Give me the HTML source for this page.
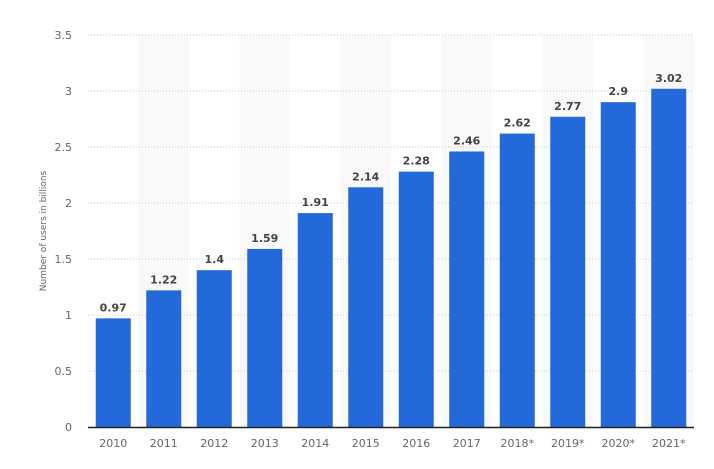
<!DOCTYPE html>
<html><head><meta charset="utf-8"><style>
body{margin:0;background:#fff;}
svg{display:block;font-family:"DejaVu Sans","Liberation Sans",sans-serif;}
</style></head><body>
<svg id="chart" width="714" height="469"></svg>
<script>
const categories=["2010","2011","2012","2013","2014","2015","2016","2017","2018*","2019*","2020*","2021*"];
const values=[0.97,1.22,1.4,1.59,1.91,2.14,2.28,2.46,2.62,2.77,2.9,3.02];
const valueLabels=["0.97","1.22","1.4","1.59","1.91","2.14","2.28","2.46","2.62","2.77","2.9","3.02"];
const yTicks=[0,0.5,1,1.5,2,2.5,3,3.5];
const yTickLabels=["0","0.5","1","1.5","2","2.5","3","3.5"];

const svg=document.getElementById('chart');
const NS='http://www.w3.org/2000/svg';
const x0=88,x1=694,yBase=427,yTop=35,yMax=3.5;
const band=(x1-x0)/categories.length;
const barW=35;
function y(v){return yBase-(v/yMax)*(yBase-yTop);}
function xc(i){return x0+band*i+band/2;}
function mk(t,a,txt){const e=document.createElementNS(NS,t);for(const k in a)e.setAttribute(k,a[k]);if(txt!=null)e.textContent=txt;svg.appendChild(e);return e;}

categories.forEach((c,i)=>{if(i%2===1){
const r=mk('rect',{x:x0+band*i,y:yTop,width:band,height:yBase-yTop,fill:'#f9f9f9'});


}});
yTicks.forEach((t,i)=>{
if(t>0){const g=mk('line',{x1:x0,x2:x1,y1:y(t),y2:y(t),stroke:'#c8c8c8','stroke-dasharray':'1,2'});

}
const l=mk('text',{x:72,y:y(t)+4,'text-anchor':'end','font-size':'11',fill:'#666'},yTickLabels[i]);


});
categories.forEach((c,i)=>{
const b=mk('rect',{x:xc(i)-barW/2,y:y(values[i]),width:barW,height:yBase-y(values[i]),fill:'#2369d9'});


const v=mk('text',{x:xc(i),y:y(values[i])-7,'text-anchor':'middle','font-size':'11','font-weight':'bold',fill:'#444'},valueLabels[i]);


const t=mk('text',{x:xc(i),y:447,'text-anchor':'middle','font-size':'11',fill:'#666'},c);


});
const ax=mk('line',{x1:x0,x2:x1,y1:yBase+0.5,y2:yBase+0.5,stroke:'#222','stroke-width':'1.5'});


const yt=mk('text',{x:0,y:0,transform:'translate(46,231) rotate(-90)','text-anchor':'middle','font-size':'9',fill:'#666'},'Number of users in billions');


</script>
</body></html>
